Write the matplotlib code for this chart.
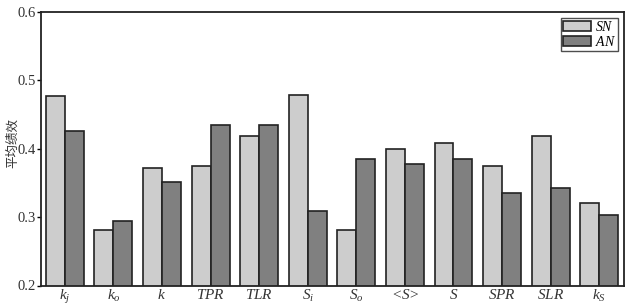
import matplotlib
matplotlib.use('Agg')
import matplotlib.pyplot as plt
import numpy as np

plt.rcParams['font.family'] = ['Liberation Serif', 'Noto Sans CJK SC']
plt.rcParams['mathtext.fontset'] = 'custom'
plt.rcParams['mathtext.it'] = 'Liberation Serif:italic'
plt.rcParams['mathtext.rm'] = 'Liberation Serif'

# 指标名称
labels = ['$k_j$', '$k_o$', '$k$', '$TPR$', '$TLR$', '$S_i$', '$S_o$',
          '$<\\!S\\!>$', '$S$', '$SPR$', '$SLR$', '$k_S$']
sn = [0.477, 0.281, 0.372, 0.375, 0.418, 0.479, 0.281, 0.399, 0.408, 0.375, 0.419, 0.321]
an = [0.426, 0.294, 0.352, 0.435, 0.435, 0.309, 0.385, 0.378, 0.385, 0.335, 0.343, 0.303]

fig = plt.figure(figsize=(6.4, 3.08), dpi=100)
ax = fig.add_axes([41/640, 1-285.5/308, 583/640, 273.5/308])

x = np.arange(len(labels))
w = 0.39
ax.bar(x - w/2, sn, w, color='#cdcdcd', edgecolor='#222222', linewidth=1.2, label='$SN$')
ax.bar(x + w/2, an, w, color='#808080', edgecolor='#222222', linewidth=1.2, label='$AN$')

ax.set_xlim(-0.49, 11.51)
ax.set_ylim(0.2, 0.6)
ax.set_yticks([0.2, 0.3, 0.4, 0.5, 0.6])
ax.set_yticklabels(['0.2', '0.3', '0.4', '0.5', '0.6'], fontsize=10.5, color='#333333')
ax.set_xticks(x)
ax.set_xticklabels(labels, fontsize=11, color='#333333')
ax.tick_params(axis='x', length=0, pad=2)
ax.tick_params(axis='y', length=3, width=1, direction='out', pad=1)
for s in ax.spines.values():
    s.set_linewidth(1.3)
    s.set_color('#222222')
ax.set_ylabel('平均绩效', fontsize=9, family=['Noto Sans CJK SC'], color='#333333')
ax.yaxis.set_label_coords(-22/583, 0.52)

leg = ax.legend(loc='upper right', fontsize=10, frameon=True, fancybox=False,
                handlelength=2.0, handleheight=0.7, borderpad=0.15, labelspacing=0.1,
                handletextpad=0.3, borderaxespad=0.4)
leg.get_frame().set_edgecolor('#222222')
leg.get_frame().set_linewidth(1.0)

plt.savefig('out.png', dpi=100)
